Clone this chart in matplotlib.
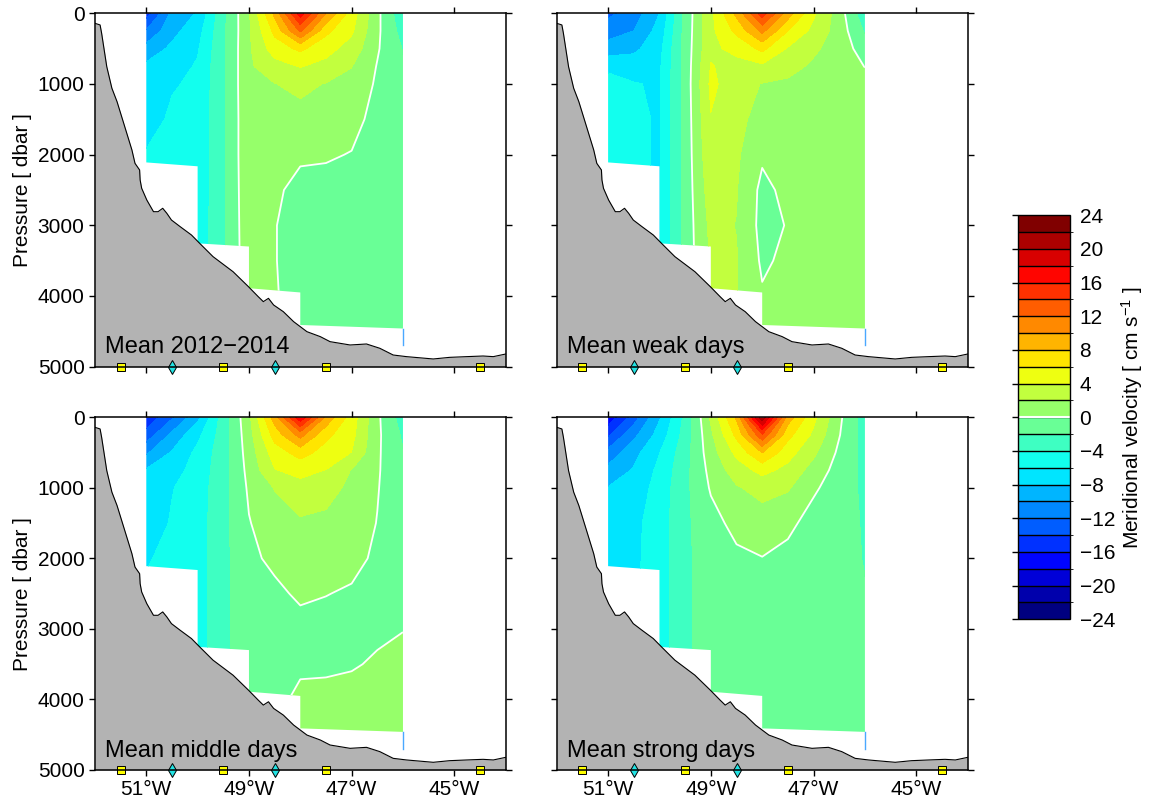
import numpy as np
import matplotlib
matplotlib.use("Agg")
import matplotlib.pyplot as plt
from matplotlib.colors import LinearSegmentedColormap, ListedColormap, BoundaryNorm
from matplotlib.patches import Polygon
import matplotlib.colorbar as mcolorbar

plt.rcParams['font.family'] = ['Liberation Sans', 'DejaVu Sans']
plt.rcParams['mathtext.fontset'] = 'custom'
plt.rcParams['mathtext.rm'] = 'Liberation Sans'
plt.rcParams['mathtext.default'] = 'regular'

# grid of the velocity section
lons = [-51.0, -50.5, -50.0, -49.5, -49.0, -48.5, -48.0, -47.5, -47.0, -46.5, -46.0]
pres = [0, 250, 500, 750, 1000, 1500, 2000, 2500, 3000, 3500, 4000, 4500]

# meridional velocity (cm/s), one list per longitude, top to bottom
vel_mean = [
    [-15.0, -11.8, -9.2, -7.6, -7.4, -7.0, -5.8, -5.5, -5.5, -5.5, -5.5, -5.5],
    [-9.5, -8.6, -7.6, -6.8, -6.2, -5.6, -5.3, -5.2, -5.2, -5.2, -5.2, -5.2],
    [-7.8, -6.8, -6.2, -5.8, -5.6, -5.5, -5.5, -5.4, -5.3, -5.2, -5.2, -5.2],
    [-2.5, -2.4, -2.3, -2.3, -2.3, -2.3, -2.3, -2.3, -2.3, -2.3, -2.3, -2.3],
    [1.8, 1.7, 1.7, 1.7, 1.7, 1.6, 1.6, 1.5, 1.4, 1.3, 1.2, 1.2],
    [8.5, 6.5, 5.0, 3.2, 1.95, 1.2, 0.8, 0.4, 0.1, 0.1, 0.2, 0.2],
    [17.0, 12.3, 6.4, 4.1, 2.5, 1.3, 0.35, -0.7, -1.0, -1.0, -1.0, -1.0],
    [10.0, 6.5, 4.7, 3.4, 1.9, 1.1, 0.25, -0.8, -1.0, -1.0, -1.1, -1.1],
    [5.0, 4.3, 3.2, 2.05, 1.5, 0.8, -0.1, -0.9, -1.1, -1.1, -1.2, -1.2],
    [0.5, 0.4, 0.2, -0.1, -0.3, -0.8, -1.0, -1.2, -1.2, -1.2, -1.3, -1.3],
    [-3.5, -2.8, -2.1, -1.8, -1.6, -1.4, -1.4, -1.4, -1.4, -1.4, -1.4, -1.4],
]
vel_weak = [
    [-12.5, -10.8, -9.2, -6.3, -5.5, -5.3, -5.5, -5.5, -5.5, -5.5, -5.5, -5.5],
    [-11.0, -10.0, -8.5, -6.8, -5.9, -5.6, -5.6, -5.6, -5.6, -5.6, -5.6, -5.6],
    [-8.0, -7.2, -6.6, -6.3, -6.2, -6.2, -6.2, -6.2, -6.2, -6.2, -6.2, -6.2],
    [-1.4, -1.3, -1.2, -1.2, -1.2, -1.2, -1.2, -1.2, -1.2, -1.2, -1.2, -1.2],
    [3.5, 3.5, 3.6, 4.1, 4.4, 3.9, 3.5, 3.0, 2.5, 2.2, 2.2, 2.2],
    [8.5, 6.5, 4.5, 3.4, 3.0, 2.6, 2.3, 2.1, 1.95, 2.1, 2.1, 2.05],
    [15.0, 10.5, 6.5, 3.6, 1.9, 1.2, 0.3, -0.5, -0.6, -0.3, 0.2, 0.6],
    [9.0, 6.0, 3.8, 2.6, 1.7, 1.3, 1.0, 0.5, 0.1, 0.4, 0.8, 0.9],
    [4.3, 3.4, 2.3, 1.7, 1.5, 1.2, 1.1, 1.0, 1.0, 1.0, 1.0, 1.0],
    [1.0, 1.1, 1.2, 1.2, 1.1, 1.0, 1.0, 1.0, 1.0, 1.0, 1.0, 1.0],
    [-3.5, -2.2, -1.0, -0.05, 0.6, 0.9, 1.0, 1.0, 1.0, 1.0, 1.0, 1.0],
]
vel_middle = [
    [-15.5, -13.2, -10.3, -7.8, -7.5, -7.2, -6.1, -5.8, -5.8, -5.8, -5.8, -5.8],
    [-12.3, -9.5, -7.8, -6.8, -6.1, -5.8, -5.7, -5.6, -5.6, -5.6, -5.6, -5.6],
    [-8.5, -6.5, -5.5, -5.2, -5.0, -4.9, -4.9, -4.9, -4.9, -4.9, -4.9, -4.9],
    [-3.0, -3.0, -2.9, -2.8, -2.7, -2.6, -2.6, -2.5, -2.5, -2.5, -2.5, -2.5],
    [1.5, 1.2, 0.9, 0.6, 0.3, -0.1, -0.4, -0.6, -0.7, -0.7, -0.7, -0.7],
    [9.0, 6.8, 5.0, 3.9, 2.1, 1.1, 0.4, -0.4, -0.8, -0.7, -0.5, -0.4],
    [17.5, 10.7, 6.8, 4.6, 3.3, 1.7, 1.1, 0.3, -0.6, -0.3, 0.4, 0.6],
    [9.5, 6.5, 5.2, 3.95, 2.8, 1.5, 0.7, 0.05, -0.6, -0.3, 0.5, 0.8],
    [5.0, 4.6, 3.95, 1.9, 1.5, 0.9, 0.5, -0.2, -0.6, -0.15, 0.6, 0.9],
    [0.4, 0.4, 0.3, 0.2, 0.1, -0.05, -0.3, -0.5, -0.3, 0.2, 0.6, 0.8],
    [-3.0, -2.3, -1.9, -1.5, -1.3, -1.0, -0.8, -0.5, -0.05, 0.5, 0.8, 0.9],
]
vel_strong = [
    [-17.5, -14.3, -11.3, -9.4, -7.9, -7.3, -6.8, -6.5, -6.5, -6.5, -6.5, -6.5],
    [-13.0, -10.5, -8.7, -7.8, -7.2, -6.5, -6.4, -6.3, -6.3, -6.3, -6.3, -6.3],
    [-8.2, -7.2, -6.05, -5.5, -5.2, -5.0, -5.0, -5.0, -5.0, -5.0, -5.0, -5.0],
    [-3.5, -3.2, -2.8, -2.6, -2.5, -2.4, -2.4, -2.4, -2.4, -2.4, -2.4, -2.4],
    [2.3, 1.6, 1.1, 0.6, 0.2, -0.7, -1.0, -1.05, -1.05, -1.05, -1.05, -1.05],
    [8.3, 6.5, 4.5, 3.0, 1.8, 0.6, -0.4, -0.8, -1.0, -1.0, -1.0, -1.0],
    [21.5, 13.6, 8.05, 4.6, 2.7, 1.0, -0.05, -0.6, -0.9, -1.0, -1.0, -1.0],
    [9.0, 6.6, 4.8, 3.4, 2.2, 0.5, -0.6, -0.9, -1.0, -1.0, -1.0, -1.0],
    [4.5, 3.6, 2.4, 1.2, 0.3, -0.8, -1.0, -1.1, -1.1, -1.1, -1.1, -1.1],
    [0.4, 0.1, -0.4, -0.8, -1.0, -1.2, -1.3, -1.3, -1.3, -1.3, -1.3, -1.3],
    [-3.0, -2.8, -2.6, -2.5, -2.4, -2.2, -2.1, -1.9, -1.7, -1.6, -1.5, -1.5],
]
panel_labels = ["Mean 2012\u22122014", "Mean weak days", "Mean middle days", "Mean strong days"]

# lower edge of the gridded data (stepped)
data_bot_lon = [-51.0, -50.0, -50.0, -49.0, -49.0, -48.0, -48.0, -46.0]
data_bot_p = [2110, 2165, 3255, 3300, 3890, 3950, 4410, 4460]

# bottom topography
bathy_lon = [-52.0, -51.90, -51.87, -51.77, -51.67, -51.57, -51.48, -51.38, -51.28, -51.22,
             -51.13, -51.12, -51.09, -50.99, -50.86, -50.77, -50.68, -50.60, -50.51, -50.34,
             -50.12, -49.96, -49.70, -49.44, -49.31, -49.01, -48.82, -48.72, -48.62, -48.52,
             -48.33, -48.13, -47.87, -47.61, -47.42, -47.03, -46.71, -46.45, -46.19, -45.93,
             -45.41, -45.09, -44.76, -44.44, -44.24, -44.0]
bathy_p = [142, 165, 283, 755, 1061, 1250, 1462, 1698, 1934, 2123,
           2217, 2358, 2476, 2642, 2807, 2807, 2759, 2830, 2925, 3019,
           3137, 3255, 3443, 3585, 3656, 3868, 4009, 4080, 4033, 4127,
           4222, 4363, 4505, 4575, 4646, 4693, 4679, 4740, 4835, 4858,
           4891, 4868, 4858, 4849, 4858, 4821]

# mooring positions along the bottom
square_lon = [-51.5, -49.5, -47.5, -44.5]
diamond_lon = [-50.5, -48.5]

levels = np.arange(-24, 25, 2)
jet_pos = [0.0, 0.125, 0.375, 0.625, 0.875, 1.0]
jet_col = [(0, 0, 0.5), (0, 0, 1), (0, 1, 1), (1, 1, 0), (1, 0, 0), (0.5, 0, 0)]
base = LinearSegmentedColormap.from_list('gmtjet', list(zip(jet_pos, jet_col)))
cmap = ListedColormap([base(i / 23) for i in range(24)])
norm = BoundaryNorm(levels, cmap.N)

fig = plt.figure(figsize=(11.51, 8.05), dpi=100)
positions = [[0.0825, 0.5445, 0.3568, 0.439], [0.4837, 0.5445, 0.357, 0.439],
             [0.0825, 0.0435, 0.3568, 0.4381], [0.4837, 0.0435, 0.357, 0.4381]]
fields = [vel_mean, vel_weak, vel_middle, vel_strong]

poly_pts = [(-51.0, 0), (-46.0, 0)] + list(zip(data_bot_lon[::-1], data_bot_p[::-1]))

for i, (pos, vel, lab) in enumerate(zip(positions, fields, panel_labels)):
    ax = fig.add_axes(pos)
    V = np.array(vel).T
    clip = Polygon(poly_pts, closed=True, transform=ax.transData)
    cf = ax.contourf(lons, pres, V, levels=levels, cmap=cmap, norm=norm)
    cf.set_clip_path(clip)
    cz = ax.contour(lons, pres, V, levels=[0], colors='white', linewidths=1.3)
    cz.set_clip_path(clip)
    ax.plot([-46.0, -46.0], [data_bot_p[-1], 4700], color='#4aa8ff', lw=1.0)

    ax.fill_between(bathy_lon, bathy_p, 5000, color='#b3b3b3', lw=0, zorder=3)
    ax.plot(bathy_lon, bathy_p, color='k', lw=0.8, zorder=4)

    ax.plot(square_lon, [5000] * len(square_lon), 's', ms=5.5, mfc='#ffff00', mec='k',
            mew=0.7, clip_on=False, zorder=5)
    ax.plot(diamond_lon, [5000] * len(diamond_lon), 'd', ms=7, mfc='#22e3e3', mec='k',
            mew=0.7, clip_on=False, zorder=5)
    for s in ax.spines.values():
        s.set_zorder(6)
        s.set_linewidth(1.1)

    ax.text(0.024, 0.038, lab, transform=ax.transAxes, fontsize=17, ha='left',
            va='baseline', zorder=7)

    ax.set_xlim(-52, -44)
    ax.set_ylim(5000, 0)
    ax.set_xticks([-51, -49, -47, -45])
    ax.set_xticklabels([f"{abs(v)}\u00b0W" for v in [-51, -49, -47, -45]])
    ax.set_yticks([0, 1000, 2000, 3000, 4000, 5000])
    ax.tick_params(direction='out', length=4, width=1, top=True, right=True,
                   labelsize=15)
    if i < 2:
        ax.tick_params(labelbottom=False)
    if i % 2 == 1:
        ax.tick_params(labelleft=False)
    else:
        ax.set_ylabel("Pressure [ dbar ]", fontsize=15)

cax = fig.add_axes([0.8847, 0.2307, 0.0448, 0.502])
cb = mcolorbar.ColorbarBase(cax, cmap=cmap, norm=norm, boundaries=levels,
                            ticks=np.arange(-24, 25, 4), drawedges=True)
cb.dividers.set_color('k')
cb.dividers.set_linewidth(1.0)
cb.outline.set_linewidth(1.0)
cax.axhline(0, color='white', lw=1.5)
cax.tick_params(axis='y', left=True, right=False, labelleft=False, labelright=True,
                direction='out', length=4, width=1, labelsize=15, pad=3)
cb.set_label("Meridional velocity [ cm s$^{-1}$ ]", fontsize=15, labelpad=3)
cax.yaxis.set_label_position('right')

fig.savefig('out.png', dpi=100)
